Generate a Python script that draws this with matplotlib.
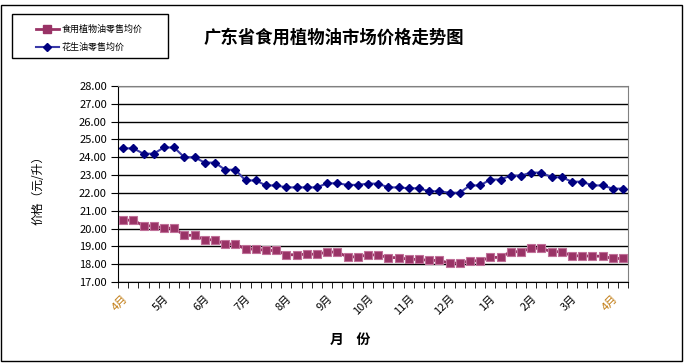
import matplotlib.pyplot as plt
from matplotlib.patches import Rectangle
from matplotlib.lines import Line2D

plt.rcParams['font.family'] = ['Noto Sans CJK SC', 'DejaVu Sans']

# monthly labels, one every 4 observations
months = ['4月', '5月', '6月', '7月', '8月', '9月', '10月', '11月', '12月',
          '1月', '2月', '3月', '4月']

veg_oil = [20.47, 20.47, 20.15, 20.15, 20.02, 20.02, 19.62, 19.62, 19.37, 19.37,
           19.13, 19.13, 18.85, 18.85, 18.77, 18.77, 18.53, 18.53, 18.56, 18.56,
           18.68, 18.68, 18.41, 18.41, 18.52, 18.52, 18.37, 18.37, 18.27, 18.27,
           18.21, 18.21, 18.06, 18.06, 18.19, 18.19, 18.38, 18.38, 18.70, 18.70,
           18.89, 18.89, 18.70, 18.70, 18.47, 18.47, 18.45, 18.45, 18.32, 18.32]

peanut_oil = [24.50, 24.50, 24.20, 24.20, 24.55, 24.55, 24.00, 24.00, 23.70, 23.70,
              23.30, 23.30, 22.70, 22.70, 22.42, 22.42, 22.31, 22.31, 22.31, 22.31,
              22.54, 22.54, 22.45, 22.45, 22.52, 22.52, 22.31, 22.31, 22.26, 22.26,
              22.09, 22.09, 22.01, 22.01, 22.42, 22.42, 22.75, 22.75, 22.97, 22.97,
              23.14, 23.14, 22.88, 22.88, 22.63, 22.63, 22.42, 22.42, 22.24, 22.24]

W, H = 684, 363
fig = plt.figure(figsize=(W / 100, H / 100), dpi=100)
ax = fig.add_axes([118 / W, 1 - 282 / H, 510 / W, 196 / H])

x = list(range(len(veg_oil)))
red = '#993366'
blue = '#000080'
ax.plot(x, veg_oil, color=red, lw=2, marker='s', ms=5.5,
        mfc=red, mec='#c07099', mew=0.8, zorder=3)
ax.plot(x, peanut_oil, color='#3a3aa8', lw=1.5, marker='D', ms=4.5,
        mfc=blue, mec=blue, zorder=3)

ax.set_xlim(-0.5, len(x) - 0.5)
ax.set_ylim(17, 28)
ax.set_yticks(range(17, 29))
ax.set_yticklabels(['%.2f' % v for v in range(17, 29)], fontsize=8)
ax.yaxis.grid(True, color='black', lw=1)
ax.set_axisbelow(True)

ax.set_xticks([i - 0.5 for i in range(len(x) + 1)], minor=True)
ax.set_xticks(range(0, len(x), 4))
ax.set_xticklabels(months, rotation=45, ha='right', va='top',
                   rotation_mode='anchor', fontsize=8)
for lbl in ax.get_xticklabels():
    if lbl.get_text() == '4月':
        lbl.set_color('#c07a10')
ax.tick_params(axis='x', which='major', length=0, pad=8)
ax.tick_params(axis='x', which='minor', length=4, direction='out', color='black')
ax.tick_params(axis='y', length=5, direction='out', pad=3)

for s in ['left', 'bottom']:
    ax.spines[s].set_color('black')
for s in ['top', 'right']:
    ax.spines[s].set_color('#808080')

fig.text(38 / W, 1 - 187 / H, '价格（元/升）', rotation=90, fontsize=8.5,
         ha='center', va='center')
fig.text(334 / W, 1 - 38 / H, '广东省食用植物油市场价格走势图', fontsize=12.5,
         fontweight='bold', ha='center', va='center')
fig.text(350 / W, 1 - 340 / H, '月    份', fontsize=10, fontweight='bold',
         ha='center', va='center')

# outer frame and legend box
fig.patches.append(Rectangle((1 / W, 2 / H), 681 / W, 1 - 7 / H,
                             transform=fig.transFigure, fill=False,
                             ec='black', lw=1))
fig.patches.append(Rectangle((12 / W, 1 - 58 / H), 156 / W, 44 / H,
                             transform=fig.transFigure, fill=False,
                             ec='black', lw=1))
handles = [Line2D([], [], color=red, lw=2, marker='s', ms=5.5, mfc=red, mec=red),
           Line2D([], [], color='#3a3aa8', lw=1.5, marker='D', ms=4.5,
                  mfc=blue, mec=blue)]
fig.legend(handles, ['食用植物油零售均价', '花生油零售均价'], loc='upper left',
           bbox_to_anchor=(32 / W, 1 - 21 / H), frameon=False, fontsize=6.5,
           handlelength=2.6, handletextpad=0.3, labelspacing=1.0, borderaxespad=0)

fig.savefig('out.png', dpi=100)
